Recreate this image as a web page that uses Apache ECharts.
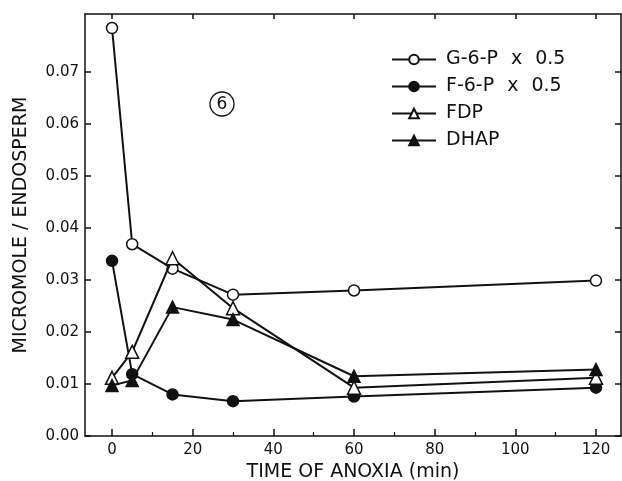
<!DOCTYPE html>
<html><head><meta charset="utf-8">
<script src="https://cdn.jsdelivr.net/npm/echarts@6/dist/echarts.min.js"></script>
<style>html,body{margin:0;padding:0;background:#fff}#c{width:622px;height:481px}</style>
</head><body><div id="c"></div>
<script>
const times = [0, 5, 15, 30, 60, 120];
const g6p  = [0.0785, 0.0369, 0.0322, 0.0272, 0.0280, 0.0299];
const f6p  = [0.0337, 0.0119, 0.0080, 0.0067, 0.0076, 0.0093];
const fdp  = [0.0112, 0.0162, 0.0342, 0.0246, 0.0093, 0.0112];
const dhap = [0.0097, 0.0107, 0.0248, 0.0224, 0.0115, 0.0128];
const seriesNames = ['G-6-P x 0.5', 'F-6-P x 0.5', 'FDP', 'DHAP'];
const xTicks = [0, 20, 40, 60, 80, 100, 120];
const xMinorTicks = [10, 30, 50, 70, 90, 110];
const yTicks = [0, 0.01, 0.02, 0.03, 0.04, 0.05, 0.06, 0.07];
const xTitle = 'TIME OF ANOXIA (min)';
const yTitle = 'MICROMOLE / ENDOSPERM';
const panelLabel = '6';

const FONT = 'DejaVu Sans';
const INK = '#111';
const X_MIN = -6.7, X_MAX = 126.2, Y_MIN = 0, Y_MAX = 0.0812;

const chart = echarts.init(document.getElementById('c'), null, {renderer: 'canvas'});
const pairs = arr => times.map((t, i) => [t, arr[i]]);
const styles = [
  {symbol: 'circle', size: 11, fill: '#fff'},
  {symbol: 'circle', size: 11, fill: INK},
  {symbol: 'triangle', size: 13, fill: '#fff'},
  {symbol: 'triangle', size: 12, fill: INK}
];
const datas = [g6p, f6p, fdp, dhap];

const baseAxisX = {type: 'value', min: X_MIN, max: X_MAX, gridIndex: 0, splitLine: {show: false}};
const baseAxisY = {type: 'value', min: Y_MIN, max: Y_MAX, gridIndex: 0, splitLine: {show: false}};
const line = {show: true, onZero: false, lineStyle: {color: INK, width: 1.5}};

chart.setOption({
  animation: false,
  backgroundColor: '#fff',
  grid: {left: 85, right: 1, top: 14, bottom: 45, containLabel: false, outerBoundsMode: 'none'},
  xAxis: [
    Object.assign({}, baseAxisX, {
      position: 'bottom',
      name: xTitle, nameLocation: 'middle', nameGap: 18,
      nameTextStyle: {fontFamily: FONT, fontSize: 19, color: INK},
      axisLine: line,
      axisTick: {show: true, inside: true, length: 7, lineStyle: {color: INK, width: 1.5}, customValues: xTicks},
      axisLabel: {show: true, customValues: xTicks, fontFamily: FONT, fontSize: 15, color: INK, margin: 7}
    }),
    Object.assign({}, baseAxisX, {
      position: 'bottom',
      axisLine: {show: false, onZero: false},
      axisTick: {show: true, inside: true, length: 4, lineStyle: {color: INK, width: 1.2}, customValues: xMinorTicks},
      axisLabel: {show: false}
    }),
    Object.assign({}, baseAxisX, {
      position: 'top',
      axisLine: line,
      axisTick: {show: true, inside: true, length: 5, lineStyle: {color: INK, width: 1.5}, customValues: xTicks},
      axisLabel: {show: false}
    })
  ],
  yAxis: [
    Object.assign({}, baseAxisY, {
      position: 'left',
      name: yTitle, nameLocation: 'middle', nameGap: 54, nameRotate: 90,
      nameTextStyle: {fontFamily: FONT, fontSize: 19, color: INK},
      axisLine: line,
      axisTick: {show: true, inside: true, length: 6, lineStyle: {color: INK, width: 1.5}, customValues: yTicks},
      axisLabel: {show: true, customValues: yTicks, fontFamily: FONT, fontSize: 15, color: INK, margin: 6,
        formatter: v => Number(v).toFixed(2)}
    }),
    Object.assign({}, baseAxisY, {
      position: 'right',
      axisLine: line,
      axisTick: {show: true, inside: true, length: 6, lineStyle: {color: INK, width: 1.5}, customValues: yTicks},
      axisLabel: {show: false}
    })
  ],
  legend: {
    orient: 'vertical', left: 386, top: 45,
    itemWidth: 44, itemHeight: 12, itemGap: 8,
    textStyle: {fontFamily: FONT, fontSize: 19, color: INK, padding: [0, 0, 0, 5],
      rich: {t: {fontFamily: FONT, fontSize: 19, color: INK}, g: {width: 13}}},
    formatter: name => name.split(' ').map(p => '{t|' + p + '}').join('{g| }'),
    data: seriesNames
  },
  graphic: [
    {type: 'circle', shape: {cx: 222, cy: 104, r: 12}, style: {fill: 'none', stroke: INK, lineWidth: 1.3}},
    {type: 'text', x: 222, y: 105, style: {text: panelLabel, font: '17px ' + FONT, fill: INK, align: 'center', verticalAlign: 'middle'}}
  ],
  series: seriesNames.map((n, i) => ({
    name: n, type: 'line', xAxisIndex: 0, yAxisIndex: 0,
    data: pairs(datas[i]),
    symbol: styles[i].symbol, symbolSize: styles[i].size, showAllSymbol: true,
    lineStyle: {color: INK, width: 2},
    itemStyle: {color: styles[i].fill, borderColor: INK, borderWidth: 1.5},
    z: 3 + i
  }))
});
</script></body></html>
